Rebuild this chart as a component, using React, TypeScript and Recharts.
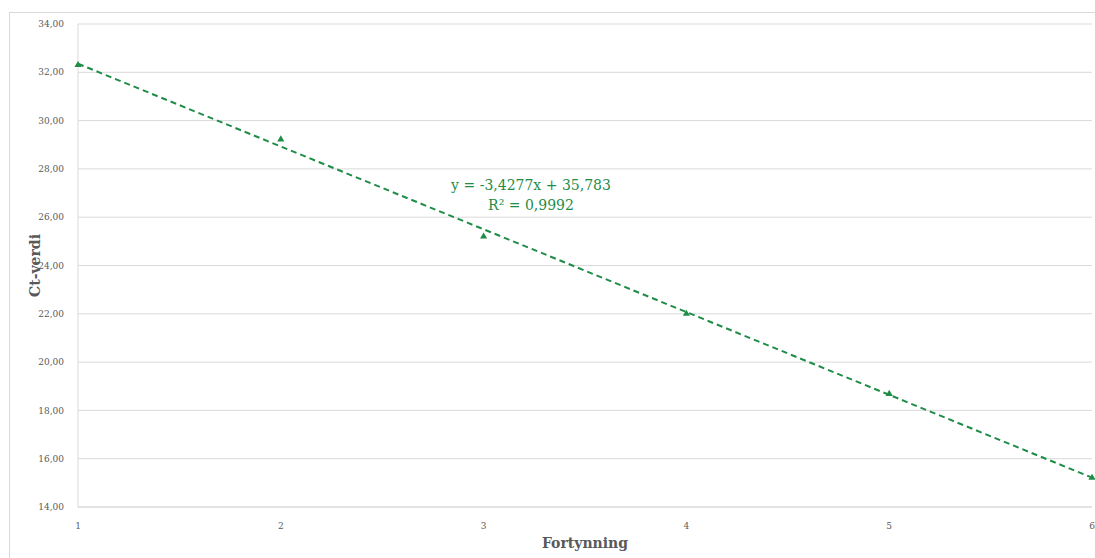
import { ComposedChart, Scatter, Line, XAxis, YAxis, ZAxis, CartesianGrid } from "recharts";

const dilutions = [1, 2, 3, 4, 5, 6];
const ctValues = [32.3, 29.22, 25.2, 22.0, 18.68, 15.21];
const trendValues = [32.355, 28.928, 25.5, 22.072, 18.645, 15.217];
const yTicks = [14, 16, 18, 20, 22, 24, 26, 28, 30, 32, 34];
const xTicks = [1, 2, 3, 4, 5, 6];

const data = dilutions.map((x, i) => ({ x, ct: ctValues[i], trend: trendValues[i] }));

const green = "#1f8c47";
const serif = "'DejaVu Serif', 'Liberation Serif', serif";

const fmt = (v: number) => v.toFixed(2).replace(".", ",");

export default function App() {
  return (
    <div
      style={{
        position: "fixed",
        left: 0,
        top: 0,
        width: 1095,
        height: 558,
        overflow: "hidden",
        background: "#fff",
        fontFamily: serif,
      }}
    >
      <div
        style={{
          position: "absolute",
          left: 9,
          top: 12,
          width: 1100,
          height: 560,
          border: "1px solid #d9d9d9",
        }}
      />
      <ComposedChart
        width={1087}
        height={550}
        data={data}
        margin={{ top: 16, right: 3, bottom: 0, left: 0 }}
        style={{ position: "absolute", left: 8, top: 8 }}
      >
        <CartesianGrid vertical={false} stroke="#d9d9d9" />
        <ZAxis range={[22, 22]} />
        <XAxis
          dataKey="x"
          type="number"
          domain={[1, 6]}
          ticks={xTicks}
          interval={0}
          tickLine={false}
          axisLine={{ stroke: "#d9d9d9" }}
          tick={{ fontSize: 9, fill: "#595959", fontFamily: serif }}
          tickMargin={10}
          height={51}
          label={{
            value: "Fortynning",
            position: "insideBottom",
            offset: 10,
            style: { fontSize: 14, fontWeight: "bold", fill: "#595959", fontFamily: serif },
          }}
        />
        <YAxis
          type="number"
          domain={[14, 34]}
          ticks={yTicks}
          tickFormatter={fmt}
          tickLine={false}
          axisLine={{ stroke: "#d9d9d9" }}
          tick={{ fontSize: 9, fill: "#595959", fontFamily: serif }}
          tickMargin={8}
          width={70}
          label={{
            value: "Ct-verdi",
            angle: -90,
            position: "insideLeft",
            offset: 27,
            style: { fontSize: 14, fontWeight: "bold", fill: "#595959", fontFamily: serif, textAnchor: "middle" },
          }}
        />
        <Line
          dataKey="trend"
          stroke={green}
          strokeWidth={2}
          strokeDasharray="6 4"
          dot={false}
          activeDot={false}
          isAnimationActive={false}
        />
        <Scatter dataKey="ct" fill={green} shape="triangle" isAnimationActive={false} />
      </ComposedChart>
      <div
        style={{
          position: "absolute",
          left: 431,
          top: 175,
          width: 200,
          textAlign: "center",
          color: green,
          fontSize: 14,
          lineHeight: "20px",
          fontFamily: serif,
        }}
      >
        <div>y = -3,4277x + 35,783</div>
        <div>R² = 0,9992</div>
      </div>
    </div>
  );
}
